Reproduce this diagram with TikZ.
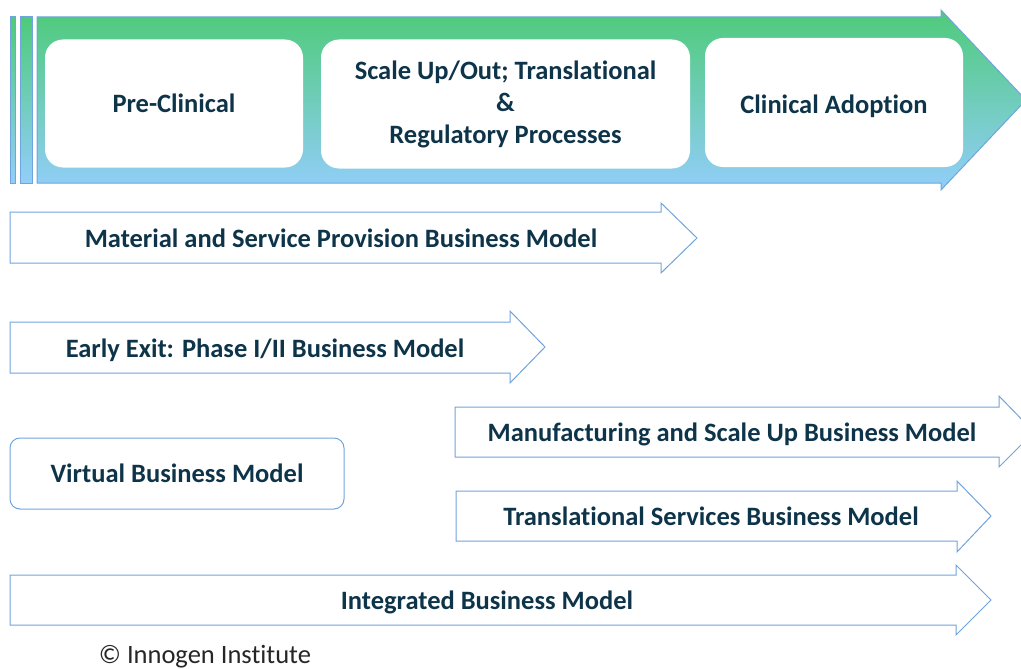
\documentclass[tikz,border=0pt]{standalone}
\usepackage{fontspec}
\setmainfont{Carlito}[Ligatures=NoCommon]
\usetikzlibrary{positioning}

\definecolor{arrowline}{RGB}{112,164,222}
\definecolor{topgreen}{RGB}{78,203,122}
\definecolor{midteal}{RGB}{112,202,196}
\definecolor{botblue}{RGB}{146,206,250}
\definecolor{labelnavy}{RGB}{14,52,74}

\begin{document}
\begin{tikzpicture}[x=1pt,y=-1pt,
    model/.style={font=\fontsize{26.5}{30}\selectfont\bfseries,text=labelnavy,align=center,inner sep=0},
    stage/.style={fill=white,rounded corners=18pt,inner sep=0,font=\fontsize{26.5}{32}\selectfont\bfseries,text=labelnavy,align=center},
    bmarrow/.style={draw=arrowline,line width=1pt,fill=white,line join=miter},
    phase/.style={draw=arrowline,line width=1pt,top color=topgreen,middle color=midteal,bottom color=botblue}
]
\useasboundingbox (0,0) rectangle (1021,669);
\clip (0,0) rectangle (1021,669);

\draw[phase] (10,17) rectangle (15,183);
\draw[phase] (20,17) rectangle (32,183);
\draw[phase] (37,17) -- (941,17) -- (941,10) -- (1026,100) -- (941,190) -- (941,183) -- (37,183) -- cycle;

\node[stage,minimum width=258pt,minimum height=128pt] (pre) at (174,103.5) {Pre-Clinical};
\node[stage,minimum width=369pt,minimum height=129pt] (scale) at (505.5,104) {Scale Up/Out; Translational\\\&\\Regulatory Processes};
\node[stage,minimum width=258pt,minimum height=129pt] (clin) at (834,102.5) {};
\node[model] (clintext) at (834,106) {Clinical Adoption};

\draw[bmarrow] (10,212) -- (661,212) -- (661,203) -- (697,238) -- (661,273) -- (661,263) -- (10,263) -- cycle;
\node[model] (msp) at (341,238) {Material and Service Provision Business Model};

\draw[bmarrow] (10,322) -- (510,322) -- (510,311) -- (545,347) -- (510,383) -- (510,373) -- (10,373) -- cycle;
\node[model] (exit) at (265,350) {Early Exit: Phase I/II Business Model};

\draw[bmarrow] (455,407) -- (999,407) -- (999,396) -- (1034,432) -- (999,467) -- (999,457) -- (455,457) -- cycle;
\node[model] (manu) at (732,434) {Manufacturing and Scale Up Business Model};

\node[model,draw=arrowline,line width=1pt,rounded corners=10pt,minimum width=334pt,minimum height=71pt] (virt) at (177,473.5) {Virtual Business Model};

\draw[bmarrow] (456,491) -- (957,491) -- (957,481) -- (991,516) -- (957,552) -- (957,541) -- (456,541) -- cycle;
\node[model] (trans) at (711,516) {Translational Services Business Model};

\draw[bmarrow] (10,575) -- (956,575) -- (956,565) -- (991,600) -- (956,635) -- (956,625) -- (10,625) -- cycle;
\node[model] (integ) at (487,602) {Integrated Business Model};

\node[font=\fontsize{26.5}{30}\selectfont,inner sep=0,text=black!85] (copy) at (205,657) {© Innogen Institute};

\end{tikzpicture}
\end{document}
